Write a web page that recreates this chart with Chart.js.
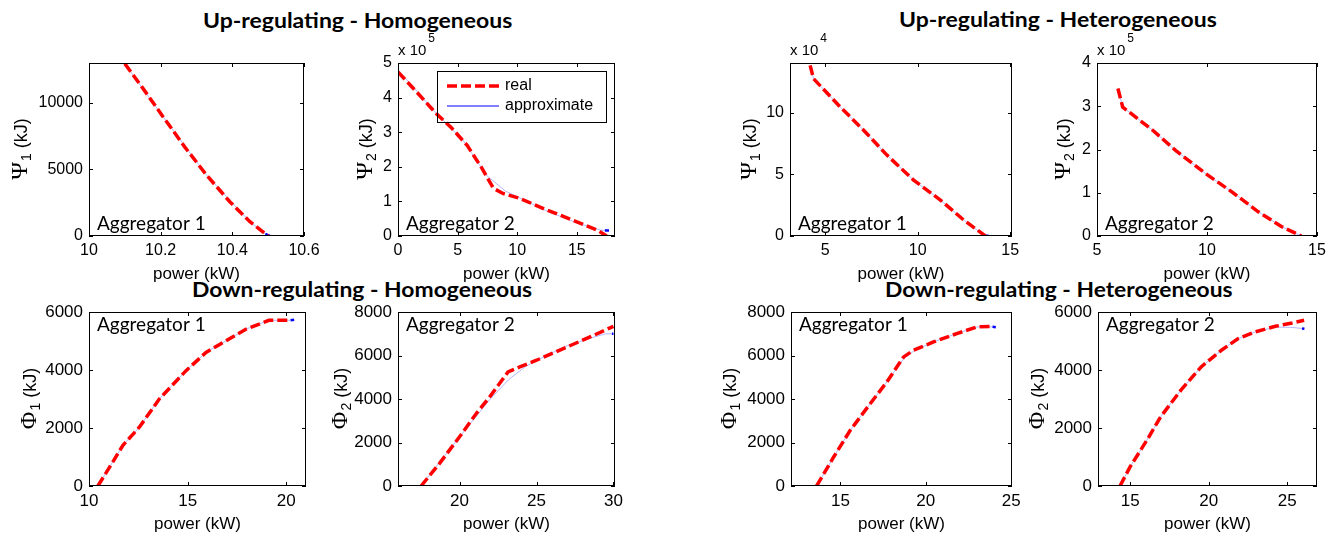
<!DOCTYPE html>
<html>
<head>
<meta charset="utf-8">
<script src="https://cdn.jsdelivr.net/npm/chart.js@4.4.1/dist/chart.umd.min.js"></script>
<style>
  body { margin: 0; background: #fff; width: 1335px; height: 538px; overflow: hidden; position: relative; }
  canvas { position: absolute; }
  .title { position: absolute; font: bold 20px Lato, sans-serif; line-height: 1; color: #000; white-space: nowrap; transform-origin: 0 0; }
</style>
</head>
<body>
<div class="title" data-w="309" style="left:203px; top:10px">Up-regulating - Homogeneous</div>
<div class="title" data-w="318" style="left:899px; top:9px">Up-regulating - Heterogeneous</div>
<div class="title" data-w="340" style="left:192px; top:279px">Down-regulating - Homogeneous</div>
<div class="title" data-w="348" style="left:885px; top:279px">Down-regulating - Heterogeneous</div>
<script>
// power in kW, energy in kJ (Psi panels 2-4 in the axis multiplier units)

// Up-regulating, homogeneous, aggregator 1
const upHom1Power = [10.100, 10.151, 10.207, 10.267, 10.328, 10.393, 10.449, 10.500];
const upHom1Psi   = [12950, 11075, 8950, 6700, 4575, 2575, 1075, 0];
const upHom1ApxPower = [10.100, 10.207, 10.328, 10.449, 10.492, 10.505];
const upHom1ApxPsi   = [12950, 8950, 4575, 1075, 150, 0];
const upHom1XTicks = [10, 10.2, 10.4, 10.6];
const upHom1YTicks = [0, 5000, 10000];

// Up-regulating, homogeneous, aggregator 2 (x 10^5)
const upHom2Power = [0, 1.6, 3.2, 4.5, 5.8, 7.0, 8.0, 8.8, 10.2, 12.5, 15.0, 16.7, 17.5];
const upHom2Psi   = [4.74, 4.15, 3.54, 3.12, 2.62, 1.98, 1.38, 1.23, 1.09, 0.75, 0.41, 0.17, 0];
const upHom2ApxPower = [0, 3.2, 5.5, 7.4, 9.0, 10.5, 12.5, 15.0, 17.0, 17.35, 17.7];
const upHom2ApxPsi   = [4.80, 3.55, 2.75, 1.76, 1.30, 1.05, 0.72, 0.38, 0.17, 0.16, 0.16];
const upHom2XTicks = [0, 5, 10, 15];
const upHom2YTicks = [0, 1, 2, 3, 4, 5];

// Up-regulating, heterogeneous, aggregator 1 (x 10^4)
const upHet1Power = [4.19, 4.37, 5.81, 7.08, 8.34, 9.78, 11.23, 12.49, 13.66];
const upHet1Psi   = [13.86, 12.78, 10.49, 8.59, 6.57, 4.54, 2.92, 1.30, 0];
const upHet1ApxPower = [4.19, 4.37, 5.81, 7.08, 8.34, 9.78, 11.23, 12.49, 13.60, 13.85];
const upHet1ApxPsi   = [13.86, 12.78, 10.49, 8.59, 6.57, 4.54, 2.92, 1.30, 0.05, 0];
const upHet1XTicks = [5, 10, 15];
const upHet1YTicks = [0, 5, 10];

// Up-regulating, heterogeneous, aggregator 2 (x 10^5)
const upHet2Power = [5.95, 6.17, 7.52, 8.57, 9.92, 11.13, 12.33, 13.38, 14.28];
const upHet2Psi   = [3.41, 2.98, 2.45, 1.98, 1.45, 1.02, 0.56, 0.22, 0];
const upHet2ApxPower = [5.95, 6.17, 7.52, 8.57, 9.92, 11.13, 12.33, 13.38, 14.20, 14.30];
const upHet2ApxPsi   = [3.41, 2.98, 2.45, 1.98, 1.45, 1.02, 0.56, 0.22, 0.02, 0];
const upHet2XTicks = [5, 10, 15];
const upHet2YTicks = [0, 1, 2, 3, 4];

// Down-regulating, homogeneous, aggregator 1
const downHom1Power = [10.45, 11.21, 11.72, 12.56, 13.57, 14.92, 15.93, 16.94, 17.95, 19.12, 19.71, 20.22];
const downHom1Phi   = [0, 834, 1406, 2034, 3006, 3977, 4606, 5006, 5406, 5714, 5714, 5714];
const downHom1ApxPower = [10.45, 11.21, 11.72, 12.56, 13.57, 14.92, 15.93, 16.94, 17.95, 19.12, 20.0, 20.22, 20.40];
const downHom1ApxPhi   = [0, 834, 1406, 2034, 3006, 3977, 4606, 5006, 5406, 5714, 5714, 5714, 5730];
const downHom1XTicks = [10, 15, 20];
const downHom1YTicks = [0, 2000, 4000, 6000];

// Down-regulating, homogeneous, aggregator 2
const downHom2Power = [17.5, 18.7, 20.0, 21.09, 21.96, 23.15, 23.91, 25.0, 26.74, 28.48, 30.0];
const downHom2Phi   = [0, 1040, 2264, 3335, 4100, 5247, 5476, 5782, 6317, 6853, 7342];
const downHom2ApxPower = [17.5, 20.0, 22.0, 23.2, 24.3, 25.5, 27.0, 28.5, 29.5, 29.9, 30.0];
const downHom2ApxPhi   = [0, 2260, 4000, 4900, 5500, 5950, 6450, 6800, 7000, 7000, 7000];
const downHom2XTicks = [20, 25, 30];
const downHom2YTicks = [0, 2000, 4000, 6000, 8000];

// Down-regulating, heterogeneous, aggregator 1
const downHet1Power = [13.60, 14.61, 15.58, 16.75, 17.72, 18.70, 19.28, 20.45, 21.81, 22.98, 23.91];
const downHet1Phi   = [0, 1346, 2570, 3793, 4788, 5935, 6241, 6623, 7006, 7312, 7342];
const downHet1ApxPower = [13.60, 14.61, 15.58, 16.75, 17.72, 18.70, 19.28, 20.45, 21.81, 22.98, 23.91, 24.10];
const downHet1ApxPhi   = [0, 1346, 2570, 3793, 4788, 5850, 6200, 6623, 7006, 7312, 7320, 7300];
const downHet1XTicks = [15, 20, 25];
const downHet1YTicks = [0, 2000, 4000, 6000, 8000];

// Down-regulating, heterogeneous, aggregator 2
const downHet2Power = [14.35, 15.0, 16.07, 16.94, 18.23, 19.52, 20.81, 21.88, 22.96, 24.25, 25.32, 26.08];
const downHet2Phi   = [0, 665, 1583, 2386, 3304, 4107, 4681, 5082, 5312, 5507, 5622, 5714];
const downHet2ApxPower = [14.35, 15.0, 16.07, 16.94, 18.23, 19.52, 20.81, 21.88, 22.96, 24.25, 25.32, 25.95, 26.10];
const downHet2ApxPhi   = [0, 665, 1583, 2386, 3304, 4107, 4681, 5082, 5312, 5480, 5470, 5430, 5420];
const downHet2XTicks = [15, 20, 25];
const downHet2YTicks = [0, 2000, 4000, 6000];

const seriesNames = ['real', 'approximate'];
const xTitle = 'power (kW)';

const RED = '#ff0000';
const BLUE = '#0000ff';
const PAD_L = 90, PAD_R = 24, PAD_T = 50, PAD_B = 52;

// box = plot area [left, top, right, bottom] on the page
const panels = [
  { box: [89, 63, 304, 236], x: upHom1Power, y: upHom1Psi, ax: upHom1ApxPower, ay: upHom1ApxPsi,
    xr: [10, 10.6], yr: [0, 13000], xt: upHom1XTicks, yt: upHom1YTicks,
    sym: 'Ψ', sub: '1', labelX: 27, agg: 'Aggregator 1', aggTop: false },
  { box: [398, 63, 615, 236], x: upHom2Power, y: upHom2Psi, ax: upHom2ApxPower, ay: upHom2ApxPsi,
    xr: [0, 18.2], yr: [0, 5], xt: upHom2XTicks, yt: upHom2YTicks,
    sym: 'Ψ', sub: '2', labelX: 372, agg: 'Aggregator 2', aggTop: false, exp: '5', legend: true },
  { box: [790, 63, 1012, 236], x: upHet1Power, y: upHet1Psi, ax: upHet1ApxPower, ay: upHet1ApxPsi,
    xr: [3.1, 15.1], yr: [0, 14.05], xt: upHet1XTicks, yt: upHet1YTicks,
    sym: 'Ψ', sub: '1', labelX: 756, agg: 'Aggregator 1', aggTop: false, exp: '4' },
  { box: [1097, 63, 1317, 236], x: upHet2Power, y: upHet2Psi, ax: upHet2ApxPower, ay: upHet2ApxPsi,
    xr: [5, 15], yr: [0, 4], xt: upHet2XTicks, yt: upHet2YTicks,
    sym: 'Ψ', sub: '2', labelX: 1070, agg: 'Aggregator 2', aggTop: false, exp: '5' },
  { box: [89, 312, 306, 486], x: downHom1Power, y: downHom1Phi, ax: downHom1ApxPower, ay: downHom1ApxPhi,
    xr: [10, 21], yr: [0, 6000], xt: downHom1XTicks, yt: downHom1YTicks,
    sym: 'Φ', sub: '1', labelX: 36, agg: 'Aggregator 1', aggTop: true },
  { box: [398, 312, 615, 486], x: downHom2Power, y: downHom2Phi, ax: downHom2ApxPower, ay: downHom2ApxPhi,
    xr: [16, 30.1], yr: [0, 8000], xt: downHom2XTicks, yt: downHom2YTicks,
    sym: 'Φ', sub: '2', labelX: 347, agg: 'Aggregator 2', aggTop: true },
  { box: [791, 312, 1012, 486], x: downHet1Power, y: downHet1Phi, ax: downHet1ApxPower, ay: downHet1ApxPhi,
    xr: [12.1, 25.05], yr: [0, 8000], xt: downHet1XTicks, yt: downHet1YTicks,
    sym: 'Φ', sub: '1', labelX: 736, agg: 'Aggregator 1', aggTop: true },
  { box: [1098, 312, 1317, 486], x: downHet2Power, y: downHet2Phi, ax: downHet2ApxPower, ay: downHet2ApxPhi,
    xr: [12.95, 26.9], yr: [0, 6000], xt: downHet2XTicks, yt: downHet2YTicks,
    sym: 'Φ', sub: '2', labelX: 1044, agg: 'Aggregator 2', aggTop: true }
];

Chart.defaults.font.family = '"Liberation Sans", Arial, sans-serif';
Chart.defaults.font.size = 16;
Chart.defaults.color = '#000';

function xy(xs, ys) { return xs.map((x, i) => ({ x: x, y: ys[i] })); }

// frame, inward ticks, axis labels, panel text and legend
const decor = {
  id: 'decor',
  afterDraw(chart) {
    const p = chart.options.plugins.decor.panel;
    const { ctx, chartArea: a, scales } = chart;
    ctx.save();
    ctx.strokeStyle = '#000';
    ctx.lineWidth = 1;
    ctx.strokeRect(a.left + 0.5, a.top + 0.5, a.width - 1, a.height - 1);

    ctx.beginPath();
    scales.x.ticks.forEach(t => {
      const px = Math.round(scales.x.getPixelForValue(t.value)) + 0.5;
      ctx.moveTo(px, a.bottom); ctx.lineTo(px, a.bottom - 4);
      ctx.moveTo(px, a.top); ctx.lineTo(px, a.top + 4);
    });
    scales.y.ticks.forEach(t => {
      const py = Math.round(scales.y.getPixelForValue(t.value)) + 0.5;
      ctx.moveTo(a.left, py); ctx.lineTo(a.left + 4, py);
      ctx.moveTo(a.right, py); ctx.lineTo(a.right - 4, py);
    });
    ctx.stroke();

    ctx.fillStyle = '#000';
    // x axis title
    ctx.font = '17px "Liberation Sans", Arial, sans-serif';
    ctx.textAlign = 'center';
    ctx.textBaseline = 'middle';
    ctx.fillText(xTitle, (a.left + a.right) / 2, a.bottom + 38);

    // y axis title with subscript, rotated
    const bx = p.labelX - (p.box[0] - PAD_L);
    ctx.save();
    ctx.translate(bx, (a.top + a.bottom) / 2);
    ctx.rotate(-Math.PI / 2);
    ctx.textBaseline = 'alphabetic';
    ctx.textAlign = 'left';
    const parts = [
      { s: p.sym, f: '24px "Liberation Serif", "DejaVu Serif", serif', dy: 0 },
      { s: p.sub, f: '14px "Liberation Sans", Arial, sans-serif', dy: 4 },
      { s: ' (kJ)', f: '18px "Liberation Sans", Arial, sans-serif', dy: 0 }
    ];
    let total = 0;
    parts.forEach(q => { ctx.font = q.f; q.w = ctx.measureText(q.s).width; total += q.w; });
    let cx = -total / 2;
    parts.forEach(q => { ctx.font = q.f; ctx.fillText(q.s, cx, q.dy); cx += q.w + (q === parts[0] ? 1 : 0); });
    ctx.restore();

    // aggregator tag
    ctx.font = '19px Lato, sans-serif';
    ctx.textAlign = 'left';
    ctx.textBaseline = 'alphabetic';
    ctx.fillText(p.agg, a.left + 8, p.aggTop ? a.top + 19 : a.bottom - 6);

    // axis multiplier
    if (p.exp) {
      ctx.font = '15px "Liberation Sans", Arial, sans-serif';
      ctx.fillText('x 10', a.left, a.top - 8);
      const w = ctx.measureText('x 10').width;
      ctx.font = '12px "Liberation Sans", Arial, sans-serif';
      ctx.fillText(p.exp, a.left + w + 2, a.top - 21);
    }

    if (p.legend) {
      const lx = a.left + 39, ly = a.top + 8, lw = 169, lh = 51;
      ctx.strokeRect(lx + 0.5, ly + 0.5, lw, lh);
      const ds = chart.data.datasets;
      const rows = [ly + 15, ly + 35];
      ds.forEach((d, i) => {
        ctx.save();
        ctx.strokeStyle = i === 0 ? d.borderColor : BLUE;
        ctx.lineWidth = i === 0 ? d.borderWidth : 1.2;
        ctx.setLineDash(i === 0 ? d.borderDash : []);
        ctx.beginPath();
        ctx.moveTo(lx + 10, rows[i]); ctx.lineTo(lx + 62, rows[i]);
        ctx.stroke();
        ctx.restore();
        ctx.font = '16px "Liberation Sans", Arial, sans-serif';
        ctx.textBaseline = 'middle';
        ctx.fillText(d.label, lx + 68, rows[i]);
      });
    }
    ctx.restore();
  }
};

panels.forEach(p => {
  const [l, t, r, b] = p.box;
  const W = r - l + PAD_L + PAD_R, H = b - t + PAD_T + PAD_B;
  const cv = document.createElement('canvas');
  cv.width = W; cv.height = H;
  cv.style.left = (l - PAD_L) + 'px';
  cv.style.top = (t - PAD_T) + 'px';
  cv.style.width = W + 'px';
  cv.style.height = H + 'px';
  document.body.appendChild(cv);

  const nApx = p.ax.length;
  const tickSize = p.aggTop ? 17 : 16;
  new Chart(cv, {
    type: 'line',
    data: {
      datasets: [{
        label: seriesNames[0],
        data: xy(p.x, p.y),
        borderColor: RED,
        borderWidth: 3.5,
        borderDash: [10, 4],
        pointRadius: 0,
        tension: 0
      }, {
        label: seriesNames[1],
        data: xy(p.ax, p.ay),
        borderColor: 'rgba(110,110,255,0.5)',
        borderWidth: 1,
        pointRadius: 0,
        tension: 0,
        segment: {
          borderColor: c => c.p1DataIndex === nApx - 1 ? BLUE : undefined,
          borderWidth: c => c.p1DataIndex === nApx - 1 ? 2.5 : undefined
        }
      }]
    },
    options: {
      responsive: false,
      animation: false,
      devicePixelRatio: 1,
      events: [],
      layout: { padding: { left: 0, top: PAD_T, right: PAD_R, bottom: 0 } },
      plugins: { legend: { display: false }, tooltip: { enabled: false }, decor: { panel: p } },
      scales: {
        x: {
          type: 'linear', min: p.xr[0], max: p.xr[1],
          afterBuildTicks: s => { s.ticks = p.xt.map(v => ({ value: v })); },
          afterFit: s => { s.height = PAD_B; },
          grid: { display: false, drawTicks: false },
          border: { display: false },
          ticks: { padding: 5, maxRotation: 0, autoSkip: false, font: { size: tickSize }, callback: v => String(v) }
        },
        y: {
          type: 'linear', min: p.yr[0], max: p.yr[1],
          afterBuildTicks: s => { s.ticks = p.yt.map(v => ({ value: v })); },
          afterFit: s => { s.width = PAD_L; },
          grid: { display: false, drawTicks: false },
          border: { display: false },
          ticks: { padding: 6, autoSkip: false, font: { size: tickSize }, callback: v => String(v) }
        }
      }
    },
    plugins: [decor]
  });
});

// squeeze the bold titles to their printed width
document.querySelectorAll('.title').forEach(el => {
  const k = Number(el.dataset.w) / el.offsetWidth;
  el.style.transform = 'scaleX(' + k.toFixed(3) + ')';
});
</script>
</body>
</html>
